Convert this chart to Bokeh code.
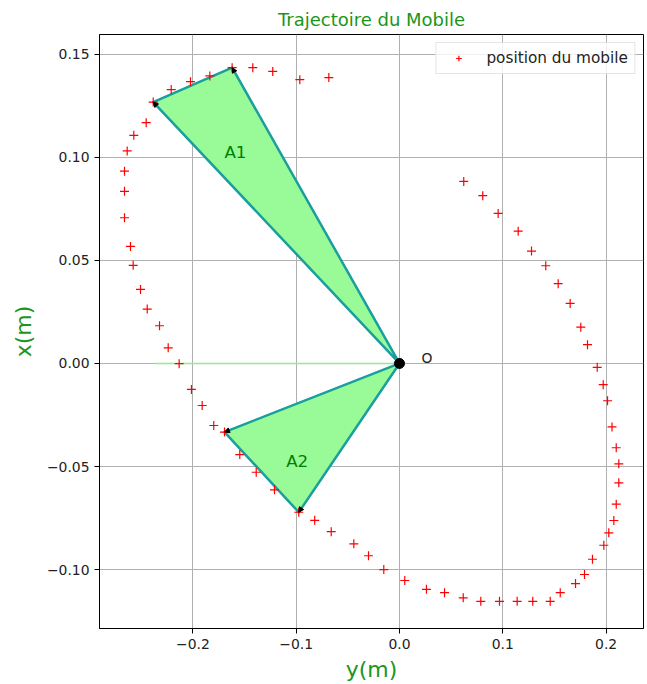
from bokeh.plotting import figure
from bokeh.models import Range1d, FixedTicker, Arrow, NormalHead, Label
from bokeh.embed import file_html
from bokeh.resources import INLINE

# horizontal axis: y(m), vertical axis: x(m)
y_m = [0.0622, 0.0806, 0.0955, 0.1149, 0.1278, 0.1416, 0.1536, 0.1652, 0.1755, 0.1820,
       0.1914, 0.1972, 0.2014, 0.2057, 0.2098, 0.2123, 0.2123, 0.2098, 0.2075, 0.2026,
       0.1978, 0.1868, 0.1791, 0.1704, 0.1556, 0.1459, 0.1290, 0.1139, 0.0968, 0.0787,
       0.0617, 0.0436, 0.0261, 0.0051, -0.0152, -0.0300, -0.0442, -0.0661, -0.0821, -0.0975,
       -0.1210, -0.1387, -0.1546, -0.1694, -0.1798, -0.1910, -0.2014, -0.2133, -0.2239, -0.2323,
       -0.2442, -0.2507, -0.2578, -0.2604, -0.2662, -0.2662, -0.2662, -0.2636, -0.2572, -0.2452,
       -0.2384, -0.2210, -0.2023, -0.1836, -0.1620, -0.1420, -0.1227, -0.0965, -0.0684]
x_m = [0.0883, 0.0814, 0.0728, 0.0642, 0.0545, 0.0474, 0.0387, 0.0291, 0.0176, 0.0091,
       -0.0019, -0.0103, -0.0181, -0.0308, -0.0409, -0.0487, -0.0579, -0.0683, -0.0762, -0.0822,
       -0.0882, -0.0950, -0.1024, -0.1068, -0.1112, -0.1154, -0.1154, -0.1154, -0.1154, -0.1154,
       -0.1137, -0.1112, -0.1096, -0.1053, -0.1000, -0.0933, -0.0875, -0.0816, -0.0761, -0.0722,
       -0.0613, -0.0528, -0.0442, -0.0333, -0.0301, -0.0204, -0.0126, -0.0001, 0.0076, 0.0183,
       0.0264, 0.0359, 0.0476, 0.0568, 0.0707, 0.0835, 0.0933, 0.1031, 0.1107, 0.1168,
       0.1268, 0.1329, 0.1367, 0.1395, 0.1435, 0.1435, 0.1417, 0.1377, 0.1387]

# indices of the triangle vertices (areas A1, A2)
a1_idx = [60, 64]
a2_idx = [39, 43]
ligne_y = [-0.236, 0.0]
ligne_x = [0.0, 0.0]
x_ticks = [-0.2, -0.1, 0.0, 0.1, 0.2]
x_tick_labels = ["\u22120.2", "\u22120.1", "0.0", "0.1", "0.2"]
y_ticks = [-0.10, -0.05, 0.0, 0.05, 0.10, 0.15]
y_tick_labels = ["\u22120.10", "\u22120.05", "0.00", "0.05", "0.10", "0.15"]

FONT = "DejaVu Sans"

p = figure(width=647, height=684, x_range=Range1d(-0.2904, 0.2362), y_range=Range1d(-0.1286, 0.1596),
           output_backend="svg", toolbar_location=None, title="Trajectoire du Mobile",
           min_border_left=99, min_border_right=4, min_border_top=34, min_border_bottom=56)
p.background_fill_color = "white"
p.border_fill_color = "white"
p.outline_line_color = "black"
p.outline_line_width = 1

p.title.align = "center"
p.title.text_font = FONT
p.title.text_font_size = "18px"
p.title.text_font_style = "normal"
p.title.text_color = "#1a961a"

p.xaxis.ticker = FixedTicker(ticks=x_ticks)
p.yaxis.ticker = FixedTicker(ticks=y_ticks)
p.xaxis.major_label_overrides = {t: l for t, l in zip(x_ticks, x_tick_labels)}
p.yaxis.major_label_overrides = {t: l for t, l in zip(y_ticks, y_tick_labels)}
for ax in (p.xaxis, p.yaxis):
    ax.axis_line_color = "black"
    ax.major_tick_line_color = "black"
    ax.major_tick_out = 5
    ax.major_tick_in = 0
    ax.minor_tick_line_color = None
    ax.major_label_text_font = FONT
    ax.major_label_text_font_size = "13.9px"
    ax.major_label_text_color = "#222222"
    ax.major_label_standoff = 5
    ax.axis_label_text_font = FONT
    ax.axis_label_text_font_size = "22px"
    ax.axis_label_text_font_style = "normal"
    ax.axis_label_text_color = "#1a961a"
p.xaxis.axis_label = "y(m)"
p.yaxis.axis_label = "x(m)"
p.xaxis.axis_label_standoff = 5
p.yaxis.axis_label_standoff = 8

p.grid.grid_line_color = "#b0b0b0"
p.grid.grid_line_width = 1

# horizontal light green line
p.line(ligne_y, ligne_x, line_color="#90ee90", line_width=1.5)

# arrow shafts (under the triangles)
verts = [a1_idx[0], a1_idx[1], a2_idx[0], a2_idx[1]]
for i in verts:
    p.add_layout(Arrow(end=None, x_start=0, y_start=0, x_end=y_m[i], y_end=x_m[i],
                       line_color="#1b2a4a", line_width=1.2, level="underlay"))

# triangles
for idx in (a1_idx, a2_idx):
    p.patch([0.0, y_m[idx[0]], y_m[idx[1]]], [0.0, x_m[idx[0]], x_m[idx[1]]],
            fill_color="#98fb98", line_color="#1a9f9f", line_width=2.5, line_join="round")

# arrow heads on top
for i in verts:
    p.add_layout(Arrow(end=NormalHead(size=5, fill_color="black", line_color="black", line_width=1),
                       x_start=0, y_start=0, x_end=y_m[i], y_end=x_m[i], line_alpha=0))

p.scatter(y_m, x_m, marker="cross", size=9, line_color="red", line_width=1.2,
          legend_label="position du mobile")

p.scatter([0.0], [0.0], size=10, fill_color="black", line_color="black")

p.add_layout(Label(x=0.0213, y=0.0026, text="O", text_font=FONT, text_font_size="13.9px",
                   text_color="#222222", text_baseline="middle", text_align="left"))
p.add_layout(Label(x=-0.1588, y=0.1026, text="A1", text_font=FONT, text_font_size="16.7px",
                   text_color="green", text_baseline="middle", text_align="center"))
p.add_layout(Label(x=-0.0990, y=-0.0471, text="A2", text_font=FONT, text_font_size="16.7px",
                   text_color="green", text_baseline="middle", text_align="center"))

lg = p.legend[0]
lg.location = "top_right"
lg.margin = 8
lg.padding = 6
lg.spacing = 0
lg.glyph_width = 32
lg.glyph_height = 14
lg.label_height = 14
lg.label_standoff = 12
lg.label_text_font = FONT
lg.label_text_font_size = "15.3px"
lg.label_text_color = "#222222"
lg.border_line_color = "#cccccc"
lg.border_line_width = 1
lg.background_fill_alpha = 0.8

open("out.html", "w").write(file_html(p, INLINE))
